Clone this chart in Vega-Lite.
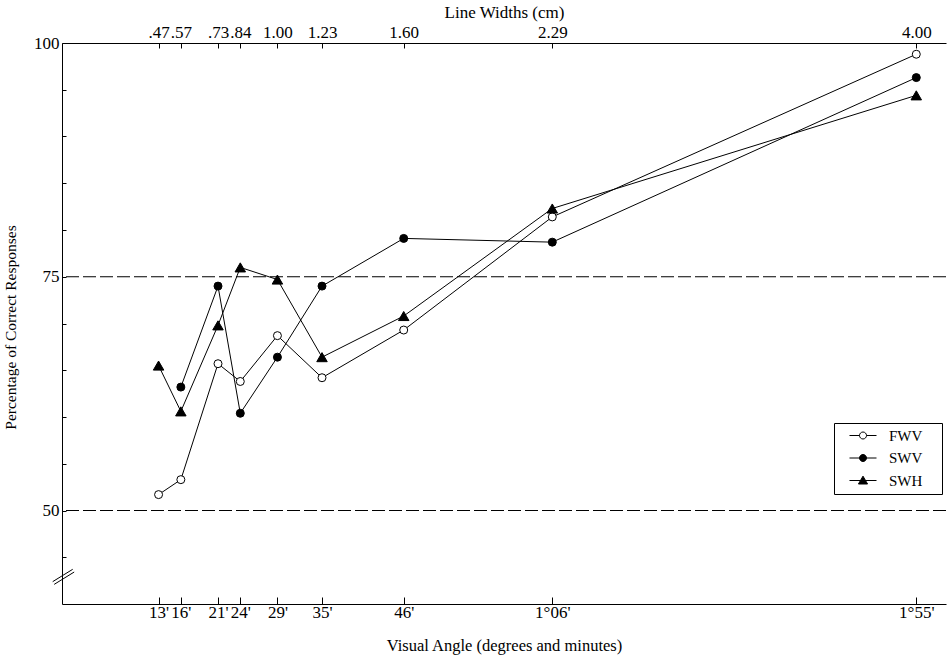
{
  "$schema": "https://vega.github.io/schema/vega-lite/v6.json",
  "width": 884,
  "height": 561,
  "autosize": "none",
  "padding": {"left": 62, "top": 43, "right": 2, "bottom": 57},
  "background": "white",
  "config": {
    "view": {"stroke": null},
    "font": "Liberation Serif",
    "axis": {
      "domainColor": "black",
      "tickColor": "black",
      "labelColor": "black",
      "titleColor": "black",
      "labelFont": "Liberation Serif",
      "titleFont": "Liberation Serif",
      "titleFontWeight": "normal",
      "grid": false,
      "labelFontSize": 17,
      "titleFontSize": 16.5,
      "labelOverlap": false,
      "labelFlush": false,
      "labelBound": false
    },
    "legend": {
      "orient": "none",
      "legendX": 772,
      "legendY": 380,
      "strokeColor": "black",
      "fillColor": "white",
      "padding": 5,
      "labelFont": "Liberation Serif",
      "labelFontSize": 15,
      "labelColor": "black",
      "symbolOffset": 16.5,
      "labelOffset": 18.5,
      "symbolSize": 49,
      "symbolStrokeWidth": 1,
      "symbolStrokeColor": "black",
      "rowPadding": 6.5
    }
  },
  "datasets": {
    "pts": [
      {"a": 13, "p": 51.7, "s": "FWV"},
      {"a": 16, "p": 53.3, "s": "FWV"},
      {"a": 21, "p": 65.7, "s": "FWV"},
      {"a": 24, "p": 63.8, "s": "FWV"},
      {"a": 29, "p": 68.7, "s": "FWV"},
      {"a": 35, "p": 64.2, "s": "FWV"},
      {"a": 46, "p": 69.3, "s": "FWV"},
      {"a": 66, "p": 81.4, "s": "FWV"},
      {"a": 115, "p": 98.8, "s": "FWV"},
      {"a": 16, "p": 63.2, "s": "SWV"},
      {"a": 21, "p": 74.0, "s": "SWV"},
      {"a": 24, "p": 60.4, "s": "SWV"},
      {"a": 29, "p": 66.4, "s": "SWV"},
      {"a": 35, "p": 74.0, "s": "SWV"},
      {"a": 46, "p": 79.1, "s": "SWV"},
      {"a": 66, "p": 78.7, "s": "SWV"},
      {"a": 115, "p": 96.3, "s": "SWV"},
      {"a": 13, "p": 65.5, "s": "SWH"},
      {"a": 16, "p": 60.6, "s": "SWH"},
      {"a": 21, "p": 69.8, "s": "SWH"},
      {"a": 24, "p": 76.0, "s": "SWH"},
      {"a": 29, "p": 74.7, "s": "SWH"},
      {"a": 35, "p": 66.4, "s": "SWH"},
      {"a": 46, "p": 70.8, "s": "SWH"},
      {"a": 66, "p": 82.3, "s": "SWH"},
      {"a": 115, "p": 94.4, "s": "SWH"}
    ],
    "refs": [{"r": 75}, {"r": 50}],
    "brk": [
      {"bx": -1.25, "by": 42.39, "bx2": 1.44, "by2": 43.71},
      {"bx": -1.05, "by": 42.1, "bx2": 1.64, "by2": 43.42}
    ]
  },
  "layer": [
    {
      "data": {"name": "refs"},
      "mark": {"type": "rule", "color": "black", "strokeDash": [13, 4], "strokeWidth": 1.2},
      "encoding": {
        "y": {"field": "r", "type": "quantitative", "scale": {"domain": [40, 100], "nice": false, "zero": false}}
      }
    },
    {
      "data": {"name": "pts"},
      "mark": {"type": "line", "color": "black", "strokeWidth": 1},
      "encoding": {
        "x": {
          "field": "a", "type": "quantitative",
          "scale": {"domain": [0, 119], "nice": false, "zero": false},
          "axis": {
            "orient": "bottom",
            "title": "Visual Angle (degrees and minutes)",
            "values": [13, 16, 21, 24, 29, 35, 46, 66, 115],
            "labelExpr": "[\"13'\",\"16'\",\"21'\",\"24'\",\"29'\",\"35'\",\"46'\",\"1°06'\",\"1°55'\"][indexof([13,16,21,24,29,35,46,66,115], datum.value)]",
            "tickSize": -7,
            "labelPadding": 7,
            "titleX": 442,
            "titleY": 46,
            "titleBaseline": "alphabetic"
          }
        },
        "y": {
          "field": "p", "type": "quantitative",
          "scale": {"domain": [40, 100], "nice": false, "zero": false},
          "axis": {
            "title": "Percentage of Correct Responses",
            "titleFontSize": 15.5,
            "values": [45, 50, 55, 60, 65, 70, 75, 80, 85, 90, 95, 100],
            "labelExpr": "datum.value % 25 === 0 ? datum.label : ''",
            "tickSize": -4,
            "labelPadding": 7,
            "titleAngle": -90,
            "titleX": -52,
            "titleY": 284,
            "titleAlign": "center",
            "titleBaseline": "middle"
          }
        },
        "detail": {"field": "s", "type": "nominal"}
      }
    },
    {
      "data": {"name": "pts"},
      "mark": {"type": "point", "filled": false, "stroke": "black", "strokeWidth": 1, "opacity": 1},
      "encoding": {
        "x": {
          "field": "a", "type": "quantitative",
          "scale": {"domain": [0, 119], "nice": false, "zero": false},
          "axis": {
            "orient": "top",
            "title": "Line Widths (cm)",
            "titleFontSize": 17,
            "values": [13, 16, 21, 24, 29, 35, 46, 66, 115],
            "labelExpr": "['.47','.57','.73','.84','1.00','1.23','1.60','2.29','4.00'][indexof([13,16,21,24,29,35,46,66,115], datum.value)]",
            "tickSize": -5,
            "labelPadding": 7,
            "titleX": 442,
            "titleY": -26,
            "titleBaseline": "alphabetic"
          }
        },
        "y": {"field": "p", "type": "quantitative"},
        "shape": {"condition": {"test": "datum.s === 'SWH'", "value": "triangle-up"}, "value": "circle"},
        "fill": {"condition": {"test": "datum.s === 'FWV'", "value": "white"}, "value": "black"},
        "size": {"condition": {"test": "datum.s === 'SWH'", "value": 110}, "value": 64}
      }
    },
    {
      "data": {"name": "pts"},
      "transform": [{"filter": "false"}],
      "mark": {"type": "point", "filled": true, "strokeWidth": 1, "size": 49, "opacity": 1},
      "encoding": {
        "x": {"field": "a", "type": "quantitative", "axis": null},
        "y": {"field": "p", "type": "quantitative"},
        "shape": {
          "field": "s", "type": "nominal",
          "scale": {
            "domain": ["FWV", "SWV", "SWH"],
            "range": [
              "M-3.86,0H-1M1,0H3.86M1,0A1,1,0,1,0,-1,0A1,1,0,1,0,1,0ZM20.3,0",
              "M-3.86,0H-1M1,0H3.86M1,0A1,1,0,1,0,-1,0A1,1,0,1,0,1,0ZM20.3,0",
              "M-3.86,0H3.86M0,-1.25L1.3,1L-1.3,1ZM20.3,0"
            ]
          },
          "legend": {"title": null}
        },
        "fill": {
          "field": "s", "type": "nominal",
          "scale": {"domain": ["FWV", "SWV", "SWH"], "range": ["white", "black", "black"]},
          "legend": {"title": null}
        },
        "stroke": {
          "field": "s", "type": "nominal",
          "scale": {"domain": ["FWV", "SWV", "SWH"], "range": ["black", "black", "black"]},
          "legend": {"title": null}
        }
      }
    },
    {
      "data": {"name": "brk"},
      "mark": {"type": "rule", "color": "black", "strokeWidth": 1},
      "encoding": {
        "x": {"field": "bx", "type": "quantitative", "axis": null},
        "y": {"field": "by", "type": "quantitative"},
        "x2": {"field": "bx2"},
        "y2": {"field": "by2"}
      }
    }
  ],
  "resolve": {"axis": {"x": "independent"}}
}
